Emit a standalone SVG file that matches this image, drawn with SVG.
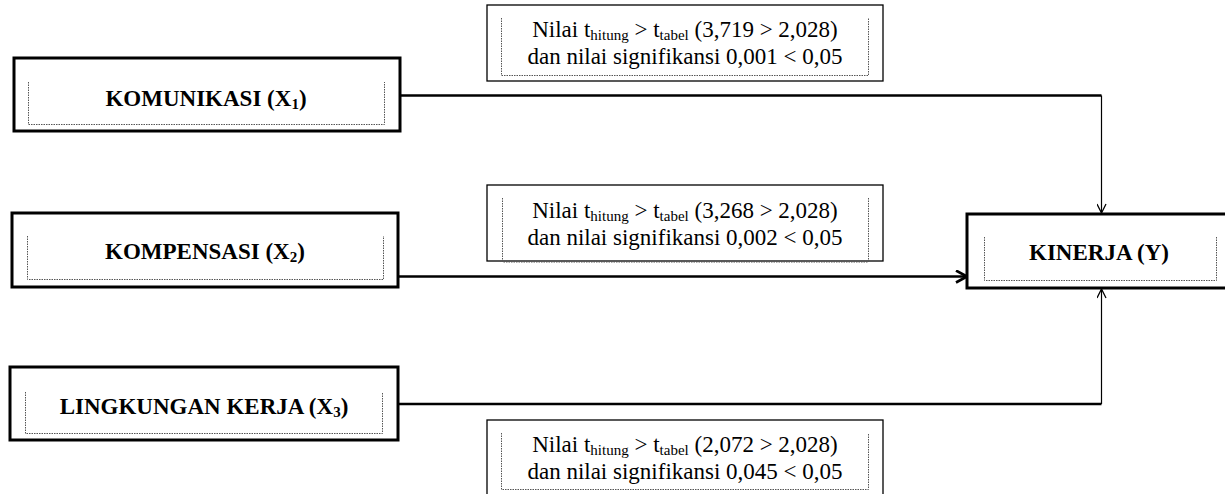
<svg xmlns="http://www.w3.org/2000/svg" width="1225" height="494" viewBox="0 0 1225 494">
<defs>
<style>
.box{fill:#fff;stroke:#000;stroke-width:3}
.note{fill:#fff;stroke:#000;stroke-width:1.3}
.dot{fill:none;stroke:#555;stroke-width:1;stroke-dasharray:1.5 1}
.lbl{font-family:"Liberation Serif","Times New Roman",serif;font-weight:bold;font-size:23px;fill:#000;text-anchor:middle}
.txt{font-family:"Liberation Serif","Times New Roman",serif;font-size:23px;fill:#000;text-anchor:middle}
.sub{font-size:15px}
.wire{fill:none;stroke:#000}
</style>
<marker id="v" viewBox="0 0 10 10" refX="10" refY="5" markerWidth="10" markerHeight="10" markerUnits="userSpaceOnUse" orient="auto"><path d="M1,0.5 L10,5 L1,9.5" fill="none" stroke="#000" stroke-width="1.3"/></marker>
<marker id="v2" viewBox="0 0 14 14" refX="13" refY="7" markerWidth="14" markerHeight="14" markerUnits="userSpaceOnUse" orient="auto"><path d="M2,1 L13,7 L2,13" fill="none" stroke="#000" stroke-width="2.6"/></marker>
</defs>
<g id="connectors">
<path class="wire" d="M400,95.5 H1101.5" stroke-width="2.5"/>
<path class="wire" d="M1101.5,95.5 V213" stroke-width="1.2" marker-end="url(#v)"/>
<path class="wire" d="M398,276.5 H967" stroke-width="2.5" marker-end="url(#v2)"/>
<path class="wire" d="M398,404 H1101.5" stroke-width="2.5"/>
<path class="wire" d="M1101.5,404 V289" stroke-width="1.2" marker-end="url(#v)"/>
</g>
<g id="node-x1">
<rect class="box" x="14" y="58" width="386" height="73"/>
<path class="dot" d="M28.5,82 V124.5 H384.5 V82"/>
<text class="lbl" x="206" y="106">KOMUNIKASI (X<tspan class="sub" dy="3">1</tspan><tspan dy="-3">)</tspan></text>
</g>
<g id="node-x2">
<rect class="box" x="12" y="213" width="386" height="74"/>
<path class="dot" d="M27.5,236 V279.5 H383.5 V236"/>
<text class="lbl" x="205" y="259">KOMPENSASI (X<tspan class="sub" dy="3">2</tspan><tspan dy="-3">)</tspan></text>
</g>
<g id="node-x3">
<rect class="box" x="10" y="367" width="388" height="73"/>
<path class="dot" d="M25.5,392 V433.5 H382.5 V392"/>
<text class="lbl" x="204" y="414">LINGKUNGAN KERJA (X<tspan class="sub" dy="3">3</tspan><tspan dy="-3">)</tspan></text>
</g>
<g id="node-y">
<rect class="box" x="967" y="214" width="270" height="74"/>
<path class="dot" d="M984.5,237 V280.5 H1216.5 V237"/>
<text class="lbl" x="1099" y="260">KINERJA (Y)</text>
</g>
<g id="note-1">
<rect class="note" x="487" y="5" width="396" height="76"/>
<path class="dot" d="M501.5,18 V75.5 H868.5 V18"/>
<text class="txt" x="685" y="37">Nilai t<tspan class="sub" dy="3">hitung</tspan><tspan dy="-3"> &gt; t</tspan><tspan class="sub" dy="3">tabel</tspan><tspan dy="-3"> (3,719 &gt; 2,028)</tspan></text>
<text class="txt" x="685" y="64">dan nilai signifikansi 0,001 &lt; 0,05</text>
</g>
<g id="note-2">
<rect class="note" x="487" y="185" width="396" height="76"/>
<path class="dot" d="M502.5,198 V262 H868.5 V198"/>
<text class="txt" x="685" y="218">Nilai t<tspan class="sub" dy="3">hitung</tspan><tspan dy="-3"> &gt; t</tspan><tspan class="sub" dy="3">tabel</tspan><tspan dy="-3"> (3,268 &gt; 2,028)</tspan></text>
<text class="txt" x="685" y="245">dan nilai signifikansi 0,002 &lt; 0,05</text>
</g>
<g id="note-3">
<rect class="note" x="487" y="420" width="396" height="80"/>
<path class="dot" d="M501.5,433 V489.5 H868.5 V433"/>
<text class="txt" x="685" y="452">Nilai t<tspan class="sub" dy="3">hitung</tspan><tspan dy="-3"> &gt; t</tspan><tspan class="sub" dy="3">tabel</tspan><tspan dy="-3"> (2,072 &gt; 2,028)</tspan></text>
<text class="txt" x="685" y="479">dan nilai signifikansi 0,045 &lt; 0,05</text>
</g>
</svg>
